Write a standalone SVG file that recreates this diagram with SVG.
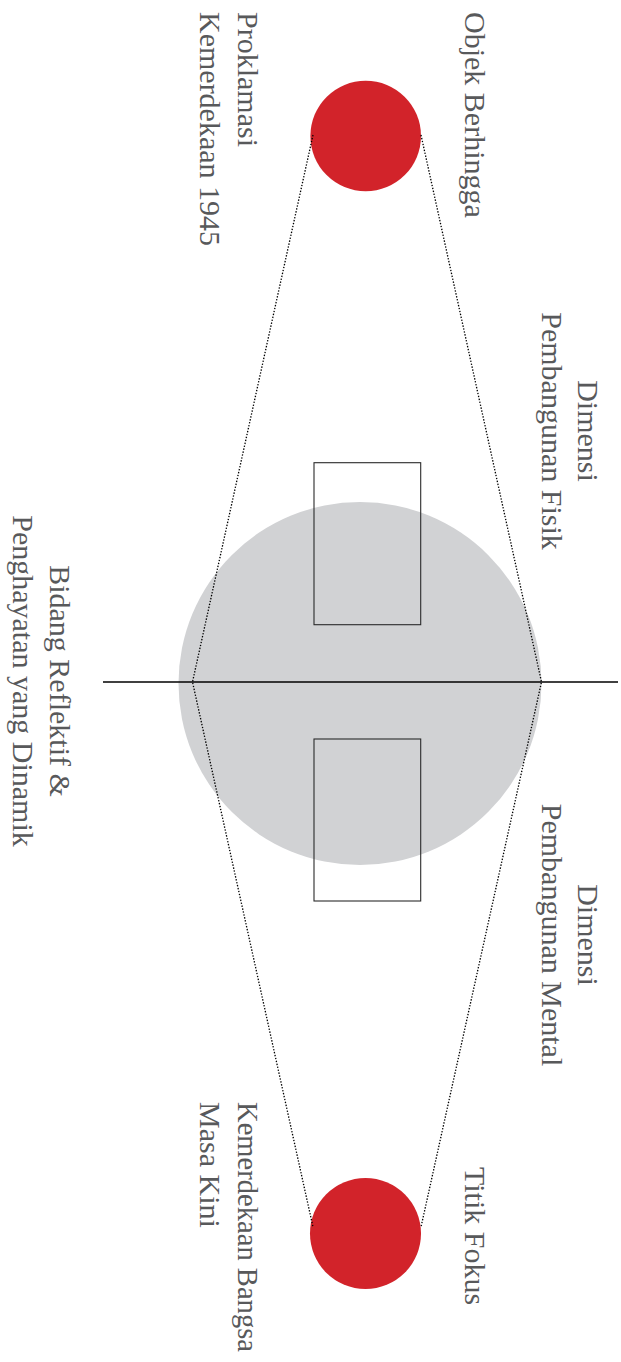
<svg xmlns="http://www.w3.org/2000/svg" width="621" height="1362" viewBox="0 0 621 1362">
<style>
.lbl{font-family:"Liberation Serif","Times New Roman",serif;font-size:30px;fill:#58595b}
.dot{fill:none;stroke:#000;stroke-width:1.3;stroke-dasharray:1.4 1.6}
.box{fill:none;stroke:#2b2b2b;stroke-width:1.1}
.red{fill:#d2232a}
</style>
<rect width="621" height="1362" fill="#fff"/>
<g id="bidang">
<circle cx="360" cy="683.5" r="181.5" fill="#d1d2d4"/>
</g>
<g id="fisik-box"><rect class="box" x="314" y="462.7" width="106.7" height="162"/></g>
<g id="mental-box"><rect class="box" x="314" y="739" width="106.7" height="162"/></g>
<g id="objek"><circle class="red" cx="365.7" cy="136" r="55.3"/></g>
<g id="titik"><circle class="red" cx="365.5" cy="1233.5" r="55.5"/></g>
<g id="connectors">
<polyline class="dot" points="313,135 192.5,682 313,1227"/>
<polyline class="dot" points="421,135 541.5,682 421,1227"/>
<line x1="103" y1="682" x2="618" y2="682" stroke="#000" stroke-width="1.5"/>
</g>
<g id="label-objek"><text class="lbl" transform="translate(465,12) rotate(90)">Objek Berhingga</text></g>
<g id="label-proklamasi"><text class="lbl" transform="translate(238,12) rotate(90)"><tspan x="0" y="0">Proklamasi</tspan><tspan x="0" y="38">Kemerdekaan 1945</tspan></text></g>
<g id="label-fisik"><text class="lbl" text-anchor="middle" transform="translate(578,431) rotate(90)"><tspan x="0" y="0">Dimensi</tspan><tspan x="0" y="36">Pembangunan Fisik</tspan></text></g>
<g id="label-mental"><text class="lbl" text-anchor="middle" transform="translate(578,935) rotate(90)"><tspan x="0" y="0">Dimensi</tspan><tspan x="0" y="36">Pembangunan Mental</tspan></text></g>
<g id="label-bidang"><text class="lbl" text-anchor="middle" transform="translate(50,681) rotate(90)"><tspan x="0" y="0">Bidang Reflektif &amp;</tspan><tspan x="0" y="37">Penghayatan yang Dinamik</tspan></text></g>
<g id="label-kini"><text class="lbl" transform="translate(238,1102) rotate(90)" textLength="250" lengthAdjust="spacingAndGlyphs">Kemerdekaan Bangsa</text><text class="lbl" transform="translate(200,1102) rotate(90)">Masa Kini</text></g>
<g id="label-titik"><text class="lbl" transform="translate(465,1167) rotate(90)">Titik Fokus</text></g>
</svg>
